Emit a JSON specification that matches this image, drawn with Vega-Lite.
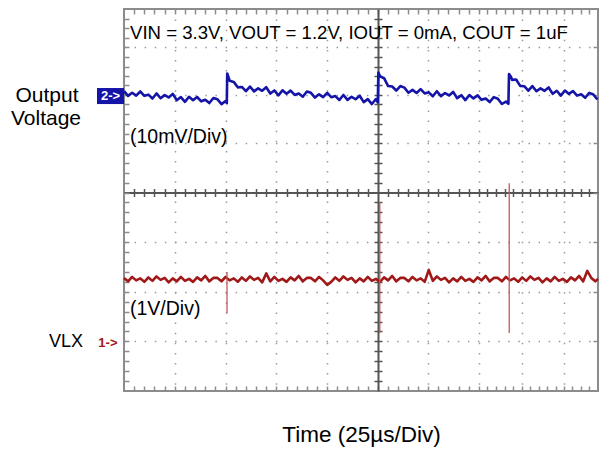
{
 "$schema": "https://vega.github.io/schema/vega-lite/v6.json",
 "width": 474,
 "height": 382,
 "autosize": {"type": "none"},
 "padding": {"left": 124, "top": 9, "right": 3, "bottom": 60},
 "background": "white",
 "config": {"view": {"stroke": "#8c8c8c", "strokeWidth": 2}, "font": "Liberation Sans"},
 "resolve": {"axis": {"x": "independent", "y": "independent"}},
 "layer": [
  {
   "data": {"values": [{"t":0,"v":2.046},{"t":2,"v":1.949},{"t":4,"v":2.012},{"t":6,"v":1.954},{"t":8,"v":2.037},{"t":10,"v":1.95},{"t":12,"v":1.973},{"t":14,"v":1.895},{"t":16,"v":1.998},{"t":18,"v":1.901},{"t":20,"v":1.964},{"t":22,"v":1.917},{"t":24,"v":1.989},{"t":26,"v":1.862},{"t":28,"v":1.925},{"t":30,"v":1.828},{"t":32,"v":1.93},{"t":34,"v":1.863},{"t":36,"v":1.926},{"t":38,"v":1.839},{"t":40,"v":1.872},{"t":42,"v":1.804},{"t":44,"v":1.907},{"t":46,"v":1.88},{"t":48,"v":1.783},{"t":50,"v":1.846},{"t":50.6,"v":1.8},{"t":50.8,"v":2.4},{"t":52,"v":2.254},{"t":54,"v":2.231},{"t":56,"v":2.121},{"t":58,"v":2.129},{"t":60,"v":2.043},{"t":62,"v":2.137},{"t":64,"v":2.039},{"t":66,"v":2.1},{"t":68,"v":2.052},{"t":70,"v":2.124},{"t":72,"v":1.996},{"t":74,"v":2.058},{"t":76,"v":1.96},{"t":78,"v":2.061},{"t":80,"v":1.993},{"t":82,"v":2.055},{"t":84,"v":1.967},{"t":86,"v":1.998},{"t":88,"v":1.932},{"t":90,"v":2.037},{"t":92,"v":2.011},{"t":94,"v":1.915},{"t":96,"v":1.98},{"t":98,"v":1.924},{"t":100,"v":2.009},{"t":102,"v":1.922},{"t":104,"v":1.944},{"t":106,"v":1.866},{"t":108,"v":1.967},{"t":110,"v":1.869},{"t":112,"v":1.93},{"t":114,"v":1.881},{"t":116,"v":1.952},{"t":118,"v":1.823},{"t":120,"v":1.883},{"t":122,"v":1.784},{"t":124,"v":1.885},{"t":124.9,"v":1.82},{"t":125.2,"v":2.42},{"t":126,"v":2.342},{"t":128,"v":2.305},{"t":130,"v":2.147},{"t":132,"v":2.137},{"t":134,"v":2.057},{"t":136,"v":2.147},{"t":138,"v":2.115},{"t":140,"v":2.013},{"t":142,"v":2.07},{"t":144,"v":2.008},{"t":146,"v":2.086},{"t":148,"v":1.998},{"t":150,"v":2.02},{"t":152,"v":1.941},{"t":154,"v":2.043},{"t":156,"v":1.944},{"t":158,"v":2.006},{"t":160,"v":1.958},{"t":162,"v":2.029},{"t":164,"v":1.901},{"t":166,"v":1.963},{"t":168,"v":1.864},{"t":170,"v":1.966},{"t":172,"v":1.898},{"t":174,"v":1.959},{"t":176,"v":1.869},{"t":178,"v":1.897},{"t":180,"v":1.825},{"t":182,"v":1.923},{"t":184,"v":1.891},{"t":186,"v":1.785},{"t":188,"v":1.834},{"t":189.2,"v":1.79},{"t":189.5,"v":2.39},{"t":190.5,"v":2.33},{"t":191,"v":2.272},{"t":193,"v":2.279},{"t":195,"v":2.151},{"t":197,"v":2.144},{"t":199,"v":2.053},{"t":201,"v":2.146},{"t":203,"v":2.042},{"t":205,"v":2.101},{"t":207,"v":2.05},{"t":209,"v":2.119},{"t":211,"v":1.99},{"t":213,"v":2.052},{"t":215,"v":1.954},{"t":217,"v":2.056},{"t":219,"v":1.988},{"t":221,"v":2.046},{"t":223,"v":1.954},{"t":225,"v":1.982},{"t":227,"v":1.911},{"t":229,"v":2.009},{"t":231,"v":1.977},{"t":233,"v":1.875}]},
   "mark": {"type": "line", "color": "#1414a8", "strokeWidth": 2.6, "strokeJoin": "round"},
   "encoding": {
    "x": {"field": "t", "type": "quantitative", "scale": {"domain": [0, 233.3], "nice": false, "zero": false},
     "axis": {"orient": "bottom", "domain": false, "labels": false, "grid": false, "tickSize": -5, "tickColor": "#8c8c8c", "tickWidth": 1.5,
      "values": [5,10,15,20,25,30,35,40,45,50,55,60,65,70,75,80,85,90,95,100,105,110,115,120,125,129.9,134.8,139.8,144.7,149.6,154.6,159.6,164.7,169.7,174.7,178.9,183.2,187.4,191.7,195.9,200,204.1,208.3,212.4,216.5,220.6,224.7,228.9],
      "title": "Time (25µs/Div)", "titleFont": "Liberation Sans", "titleFontSize": 22.5, "titleFontWeight": "normal", "titleColor": "#000000", "titlePadding": 32}},
    "y": {"field": "v", "type": "quantitative", "scale": {"domain": [-4, 3.7], "nice": false, "zero": false},
     "axis": {"orient": "left", "domain": false, "labels": false, "grid": false, "tickSize": -5, "tickColor": "#8c8c8c", "tickWidth": 1.5, "title": null,
      "values": [-3.8,-3.6,-3.4,-3.2,-3,-2.8,-2.6,-2.4,-2.2,-2,-1.8,-1.6,-1.4,-1.2,-1,-0.8,-0.6,-0.4,-0.2,0,0.2,0.4,0.6,0.8,1,1.19,1.39,1.58,1.78,1.97,2.16,2.35,2.54,2.74,2.93,3.12,3.31,3.5]}}
   }
  },
  {
   "data": {"values": [{"t":0,"v":-1.72},{"t":2,"v":-1.79},{"t":4,"v":-1.7},{"t":6,"v":-1.77},{"t":8,"v":-1.73},{"t":10,"v":-1.8},{"t":12,"v":-1.71},{"t":14,"v":-1.78},{"t":16,"v":-1.69},{"t":18,"v":-1.76},{"t":20,"v":-1.72},{"t":22,"v":-1.81},{"t":24,"v":-1.73},{"t":26,"v":-1.79},{"t":28,"v":-1.7},{"t":30,"v":-1.78},{"t":32,"v":-1.74},{"t":34,"v":-1.8},{"t":36,"v":-1.71},{"t":38,"v":-1.77},{"t":40,"v":-1.68},{"t":42,"v":-1.79},{"t":44,"v":-1.72},{"t":46,"v":-1.72},{"t":48,"v":-1.79},{"t":50,"v":-1.7},{"t":52,"v":-1.77},{"t":54,"v":-1.73},{"t":56,"v":-1.8},{"t":58,"v":-1.71},{"t":60,"v":-1.78},{"t":62,"v":-1.69},{"t":64,"v":-1.76},{"t":66,"v":-1.72},{"t":68,"v":-1.81},{"t":70,"v":-1.63},{"t":72,"v":-1.79},{"t":74,"v":-1.7},{"t":76,"v":-1.78},{"t":78,"v":-1.74},{"t":80,"v":-1.8},{"t":82,"v":-1.71},{"t":84,"v":-1.77},{"t":86,"v":-1.68},{"t":88,"v":-1.79},{"t":90,"v":-1.72},{"t":92,"v":-1.72},{"t":94,"v":-1.79},{"t":96,"v":-1.7},{"t":98,"v":-1.77},{"t":100,"v":-1.86},{"t":102,"v":-1.8},{"t":104,"v":-1.71},{"t":106,"v":-1.78},{"t":108,"v":-1.69},{"t":110,"v":-1.76},{"t":112,"v":-1.72},{"t":114,"v":-1.81},{"t":116,"v":-1.73},{"t":118,"v":-1.79},{"t":120,"v":-1.7},{"t":122,"v":-1.78},{"t":124,"v":-1.74},{"t":126,"v":-1.8},{"t":128,"v":-1.71},{"t":130,"v":-1.77},{"t":132,"v":-1.68},{"t":134,"v":-1.79},{"t":136,"v":-1.72},{"t":138,"v":-1.72},{"t":140,"v":-1.79},{"t":142,"v":-1.7},{"t":144,"v":-1.77},{"t":146,"v":-1.73},{"t":148,"v":-1.8},{"t":150,"v":-1.56},{"t":152,"v":-1.78},{"t":154,"v":-1.69},{"t":156,"v":-1.76},{"t":158,"v":-1.72},{"t":160,"v":-1.81},{"t":162,"v":-1.73},{"t":164,"v":-1.79},{"t":166,"v":-1.7},{"t":168,"v":-1.78},{"t":170,"v":-1.74},{"t":172,"v":-1.8},{"t":174,"v":-1.71},{"t":176,"v":-1.77},{"t":178,"v":-1.68},{"t":180,"v":-1.79},{"t":182,"v":-1.72},{"t":184,"v":-1.72},{"t":186,"v":-1.79},{"t":188,"v":-1.7},{"t":190,"v":-1.77},{"t":192,"v":-1.73},{"t":194,"v":-1.8},{"t":196,"v":-1.71},{"t":198,"v":-1.78},{"t":200,"v":-1.69},{"t":202,"v":-1.76},{"t":204,"v":-1.72},{"t":206,"v":-1.81},{"t":208,"v":-1.73},{"t":210,"v":-1.79},{"t":212,"v":-1.7},{"t":214,"v":-1.78},{"t":216,"v":-1.74},{"t":218,"v":-1.8},{"t":220,"v":-1.71},{"t":222,"v":-1.77},{"t":224,"v":-1.68},{"t":226,"v":-1.79},{"t":228,"v":-1.58},{"t":230,"v":-1.72},{"t":232,"v":-1.79},{"t":233.3,"v":-1.74}]},
   "mark": {"type": "line", "color": "#a01818", "strokeWidth": 2.6, "strokeJoin": "round"},
   "encoding": {
    "x": {"field": "t", "type": "quantitative",
     "axis": {"orient": "top", "domain": false, "labels": false, "grid": false, "tickSize": -5, "tickColor": "#8c8c8c", "tickWidth": 1.5, "title": null,
      "values": [5,10,15,20,25,30,35,40,45,50,55,60,65,70,75,80,85,90,95,100,105,110,115,120,125,129.9,134.8,139.8,144.7,149.6,154.6,159.6,164.7,169.7,174.7,178.9,183.2,187.4,191.7,195.9,200,204.1,208.3,212.4,216.5,220.6,224.7,228.9]}},
    "y": {"field": "v", "type": "quantitative",
     "axis": {"orient": "right", "domain": false, "labels": false, "grid": false, "tickSize": -5, "tickColor": "#8c8c8c", "tickWidth": 1.5, "title": null,
      "values": [-3,-2,-1,0,1,1.97,2.93]}}
   }
  },
  {
   "data": {"values": [{"t":50.7,"top":-1.6,"bottom":-2.43},{"t":125.9,"top":-0.19,"bottom":-2.83},{"t":189.6,"top":0.19,"bottom":-2.83}]},
   "mark": {"type": "rule", "color": "#c25a5a", "strokeWidth": 1.3},
   "encoding": {
    "x": {"field": "t", "type": "quantitative",
     "axis": {"orient": "bottom", "offset": -202.5, "domain": false, "labels": false, "grid": false, "tickSize": 8, "tickColor": "#555555", "tickWidth": 1.5, "title": null,
      "values": [5,10,15,20,25,30,35,40,45,50,55,60,65,70,75,80,85,90,95,100,105,110,115,120,129.9,134.8,139.8,144.7,149.6,154.6,159.6,164.7,169.7,174.7,178.9,183.2,187.4,191.7,195.9,200,204.1,208.3,212.4,216.5,220.6,224.7,228.9]}},
    "y": {"field": "top", "type": "quantitative",
     "axis": {"orient": "left", "offset": -258, "domain": false, "labels": false, "grid": false, "tickSize": 8, "tickColor": "#555555", "tickWidth": 1.5, "title": null,
      "values": [-3.8,-3.6,-3.4,-3.2,-3,-2.8,-2.6,-2.4,-2.2,-2,-1.8,-1.6,-1.4,-1.2,-1,-0.8,-0.6,-0.4,-0.2,0.2,0.4,0.6,0.8,1,1.19,1.39,1.58,1.78,1.97,2.16,2.35,2.54,2.74,2.93,3.12,3.31,3.5]}},
    "y2": {"field": "bottom"}
   }
  },
  {
   "data": {"values": [{"t":-13.3,"t2":0,"top":2.107,"bottom":1.784}]},
   "mark": {"type": "rect", "color": "#1414a8"},
   "encoding": {
    "x": {"field": "t", "type": "quantitative",
     "axis": {"orient": "bottom", "offset": -198.5, "domain": true, "domainColor": "#555555", "domainWidth": 2, "ticks": false, "labels": false, "grid": true, "gridColor": "#9a9a9a", "gridWidth": 1.5, "gridDash": [1.5, 8.6], "title": null,
      "values": [25,50,75,100,149.6,174.7,195.9,216.5]}},
    "x2": {"field": "t2"},
    "y": {"field": "top", "type": "quantitative",
     "axis": {"orient": "left", "offset": -254, "domain": true, "domainColor": "#555555", "domainWidth": 2, "ticks": false, "labels": false, "grid": true, "gridColor": "#9a9a9a", "gridWidth": 1.5, "gridDash": [1.5, 8.6], "title": null,
      "values": [-3,-2,-1,1,1.97,2.93]}},
    "y2": {"field": "bottom"}
   }
  },
  {
   "data": {"values": [{"label":"2->","ch":"2","t":-6.6,"v":1.946},{"label":"1->","ch":"1","t":-7.9,"v":-3.034}]},
   "mark": {"type": "text", "fontSize": 13, "fontWeight": "bold", "align": "center", "baseline": "middle"},
   "encoding": {
    "x": {"field": "t", "type": "quantitative", "axis": null},
    "y": {"field": "v", "type": "quantitative", "axis": null},
    "text": {"field": "label"},
    "color": {"field": "ch", "type": "nominal", "scale": {"domain": ["1", "2"], "range": ["#a01818", "#ffffff"]}, "legend": null}
   }
  },
  {
   "data": {"values": [{"label":"VIN = 3.3V, VOUT = 1.2V, IOUT = 0mA, COUT = 1uF","t":2.95,"v":3.095}]},
   "mark": {"type": "text", "fontSize": 18.6, "align": "left", "baseline": "alphabetic", "color": "#000000"},
   "encoding": {
    "x": {"field": "t", "type": "quantitative", "axis": null},
    "y": {"field": "v", "type": "quantitative", "axis": null},
    "text": {"field": "label"}
   }
  },
  {
   "data": {"values": [{"label":"(10mV/Div)","t":2.95,"v":1.0},{"label":"(1V/Div)","t":2.95,"v":-2.47}]},
   "mark": {"type": "text", "fontSize": 19.5, "align": "left", "baseline": "alphabetic", "color": "#000000"},
   "encoding": {
    "x": {"field": "t", "type": "quantitative", "axis": null},
    "y": {"field": "v", "type": "quantitative", "axis": null},
    "text": {"field": "label"}
   }
  },
  {
   "data": {"values": [{"label":"Output","t":-37.9,"v":1.835},{"label":"Voltage","t":-38.4,"v":1.36}]},
   "mark": {"type": "text", "fontSize": 21, "align": "center", "baseline": "alphabetic", "color": "#000000"},
   "encoding": {
    "x": {"field": "t", "type": "quantitative", "axis": null},
    "y": {"field": "v", "type": "quantitative", "axis": null},
    "text": {"field": "label"}
   }
  },
  {
   "data": {"values": [{"label":"VLX","t":-20.2,"v":-3.115}]},
   "mark": {"type": "text", "fontSize": 18, "align": "right", "baseline": "alphabetic", "color": "#000000"},
   "encoding": {
    "x": {"field": "t", "type": "quantitative", "axis": null},
    "y": {"field": "v", "type": "quantitative", "axis": null},
    "text": {"field": "label"}
   }
  }
 ]
}
